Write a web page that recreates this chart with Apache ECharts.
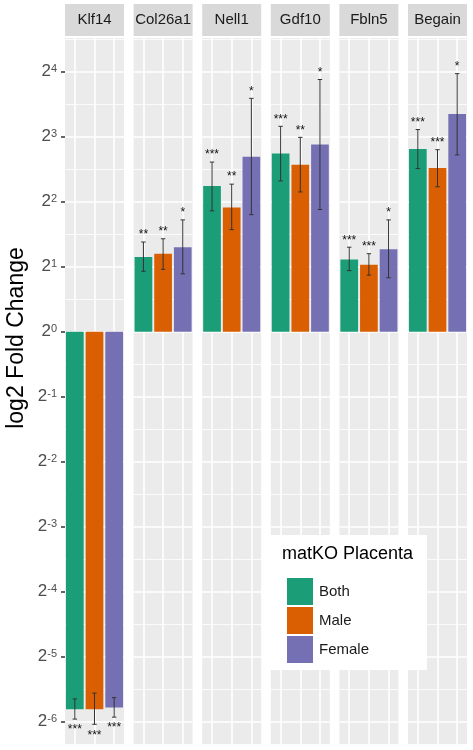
<!DOCTYPE html>
<html>
<head>
<meta charset="utf-8">
<script src="https://cdn.jsdelivr.net/npm/echarts@6/dist/echarts.min.js"></script>
<style>html,body{margin:0;padding:0;background:#fff}#c{width:473px;height:750px}</style>
</head>
<body>
<div id="c"></div>
<script>
// ---- data (log2 fold change) ----
const genes = ['Klf14', 'Col26a1', 'Nell1', 'Gdf10', 'Fbln5', 'Begain'];
const groups = ['Both', 'Male', 'Female'];
const bothLog2   = [-5.81, 1.15, 2.24, 2.74, 1.11, 2.81];
const maleLog2   = [-5.81, 1.20, 1.91, 2.57, 1.03, 2.52];
const femaleLog2 = [-5.78, 1.30, 2.69, 2.88, 1.27, 3.35];
const bothLow    = [-5.96, 0.93, 1.86, 2.32, 0.94, 2.51];
const bothHigh   = [-5.65, 1.38, 2.61, 3.16, 1.30, 3.11];
const maleLow    = [-6.04, 0.96, 1.57, 2.15, 0.87, 2.23];
const maleHigh   = [-5.56, 1.43, 2.27, 2.99, 1.20, 2.80];
const femaleLow  = [-5.93, 0.89, 1.80, 1.88, 0.83, 2.72];
const femaleHigh = [-5.63, 1.72, 3.59, 3.88, 1.72, 3.97];
const bothStars   = ['***', '**', '***', '***', '***', '***'];
const maleStars   = ['***', '**', '**', '**', '***', '***'];
const femaleStars = ['***', '*', '*', '*', '*', '*'];
const yTickExponents = [-6, -5, -4, -3, -2, -1, 0, 1, 2, 3, 4];

const values = [bothLog2, maleLog2, femaleLog2];
const lows = [bothLow, maleLow, femaleLow];
const highs = [bothHigh, maleHigh, femaleHigh];
const stars = [bothStars, maleStars, femaleStars];
const colors = ['#1B9E77', '#D95F02', '#7570B3'];

// ---- layout ----
const FONT = 'Liberation Sans, Arial, sans-serif';
const panelLeft0 = 65, panelStep = 68.6, panelW = 59;
const panelTop = 38, panelBottom = 744;
const yMin = -7, yMax = 5, pxPerUnit = 65, zeroY = 331.7;
const gridTop = zeroY - yMax * pxPerUnit;
const gridH = (yMax - yMin) * pxPerUnit;

const chart = echarts.init(document.getElementById('c'), null, {renderer: 'canvas'});

const grids = [], xAxes = [], yAxes = [], series = [], graphics = [];
genes.forEach((g, p) => {
  const left = panelLeft0 + p * panelStep;
  grids.push({left: left, top: gridTop, width: panelW, height: gridH,
    outerBoundsMode: 'none', containLabel: false,
    show: true, backgroundColor: '#ebebeb', borderWidth: 0});
  xAxes.push({type: 'category', gridIndex: p, data: groups,
    axisLine: {show: false}, axisTick: {show: false}, axisLabel: {show: false, interval: 0},
    splitLine: {show: true, interval: 0, alignWithLabel: true, lineStyle: {color: '#ffffff', width: 1.6}}});
  yAxes.push({type: 'value', gridIndex: p, min: yMin, max: yMax, interval: 1,
    axisLine: {show: false},
    axisTick: {show: p === 0, length: 4, lineStyle: {color: '#333333', width: 1.5}},
    axisLabel: {show: p === 0, margin: 8,
      formatter: v => yTickExponents.indexOf(v) >= 0 ? '{b|2}{s|' + v + '}' : '',
      rich: {
        b: {fontSize: 17, color: '#4d4d4d', fontFamily: FONT},
        s: {fontSize: 11, color: '#4d4d4d', fontFamily: FONT, verticalAlign: 'top'}
      }},
    splitLine: {show: true, lineStyle: {color: '#ffffff', width: 1.6}},
    minorTick: {show: false, splitNumber: 2},
    minorSplitLine: {show: true, lineStyle: {color: '#ffffff', width: 0.8}}
  });
  groups.forEach((grp, k) => {
    series.push({type: 'bar', name: grp, xAxisIndex: p, yAxisIndex: p,
      barGap: '-100%', barCategoryGap: '10%',
      itemStyle: {color: colors[k]},
      data: groups.map((c, j) => j === k ? values[k][p] : '-'),
      silent: true, animation: false});
  });
  const errData = groups.map((c, k) => [c, lows[k][p], highs[k][p], values[k][p]]);
  series.push({type: 'custom', xAxisIndex: p, yAxisIndex: p, z: 5, silent: true, animation: false,
    data: errData,
    renderItem: (params, api) => {
      const k = params.dataIndex;
      const x = api.value(0);
      const pLo = api.coord([x, api.value(1)]);
      const pHi = api.coord([x, api.value(2)]);
      const cx = pLo[0], cap = 2.2;
      const neg = api.value(3) < 0;
      const ls = {stroke: '#333333', lineWidth: 1};
      return {type: 'group', children: [
        {type: 'line', shape: {x1: cx, y1: pLo[1], x2: cx, y2: pHi[1]}, style: ls},
        {type: 'line', shape: {x1: cx - cap, y1: pLo[1], x2: cx + cap, y2: pLo[1]}, style: ls},
        {type: 'line', shape: {x1: cx - cap, y1: pHi[1], x2: cx + cap, y2: pHi[1]}, style: ls},
        {type: 'text', style: {text: stars[k][p], x: cx,
          y: neg ? pLo[1] + 11 : pHi[1] - 7,
          textAlign: 'center', textVerticalAlign: 'middle',
          fontSize: 12, fontFamily: FONT, fill: '#111111'}}
      ]};
    }});
  // strip
  graphics.push({type: 'rect', z: 101, shape: {x: left, y: 4, width: panelW, height: 32},
    style: {fill: '#d9d9d9'}});
  graphics.push({type: 'text', z: 102, x: left + panelW / 2, y: 20,
    style: {text: g, fontSize: 15, fontFamily: FONT, fill: '#1a1a1a',
      textAlign: 'center', textVerticalAlign: 'middle'}});
});

// white covers outside the panel area
graphics.push({type: 'rect', z: 100, shape: {x: 0, y: 0, width: 473, height: panelTop}, style: {fill: '#ffffff'}});
graphics.push({type: 'rect', z: 100, shape: {x: 0, y: panelBottom, width: 473, height: 750 - panelBottom}, style: {fill: '#ffffff'}});
// axis title
graphics.push({type: 'text', z: 102, x: 17, y: 338, rotation: Math.PI / 2,
  style: {text: 'log2 Fold Change', fontSize: 23, fontFamily: FONT, fill: '#000000',
    textAlign: 'center', textVerticalAlign: 'middle'}});
// legend box + title
graphics.push({type: 'rect', z: 90, shape: {x: 270, y: 535, width: 157, height: 135}, style: {fill: '#ffffff'}});
graphics.push({type: 'text', z: 91, x: 282, y: 554,
  style: {text: 'matKO Placenta', fontSize: 18, fontFamily: FONT, fill: '#000000',
    textAlign: 'left', textVerticalAlign: 'middle'}});

chart.setOption({
  animation: false,
  backgroundColor: '#ffffff',
  grid: grids, xAxis: xAxes, yAxis: yAxes, series: series,
  legend: {orient: 'vertical', left: 282, top: 573, itemWidth: 26, itemHeight: 27, itemGap: 2,
    icon: 'rect', data: groups, selectedMode: false, z: 95,
    textStyle: {fontSize: 15, color: '#1a1a1a', fontFamily: FONT, padding: [0, 0, 0, 1]}},
  graphic: {elements: graphics}
});
</script>
</body>
</html>
